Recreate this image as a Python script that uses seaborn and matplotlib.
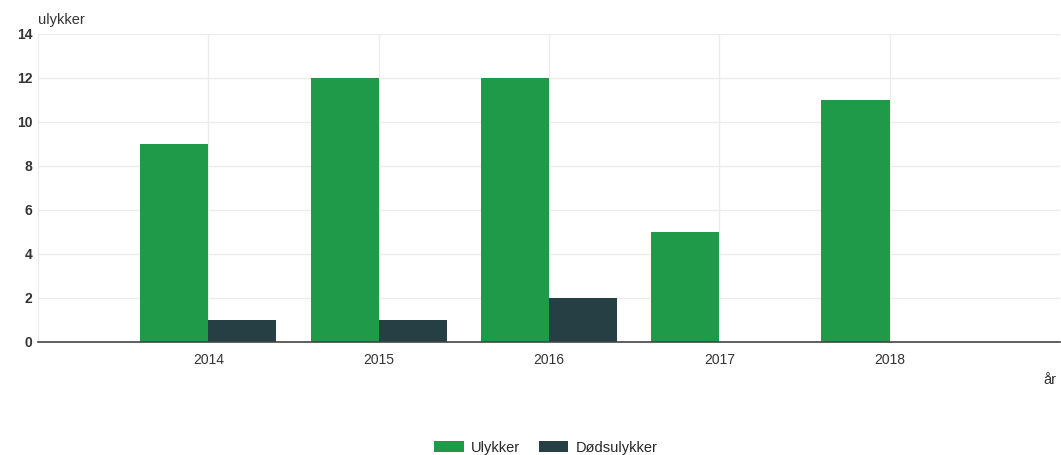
import pandas as pd
import matplotlib
matplotlib.use("Agg")
import matplotlib.pyplot as plt
import seaborn as sns

# Data
years = ["2014", "2015", "2016", "2017", "2018"]
ulykker = [9, 12, 12, 5, 11]
dodsulykker = [1, 1, 2, 0, 0]
series_names = ["Ulykker", "Dødsulykker"]
colors = ["#1f9a48", "#253f44"]

df = pd.DataFrame({
    "år": years * 2,
    "antall": ulykker + dodsulykker,
    "serie": [series_names[0]] * len(years) + [series_names[1]] * len(years),
})

sns.set_style("white")
plt.rcParams["font.family"] = ["Liberation Sans", "DejaVu Sans"]

fig = plt.figure(figsize=(10.61, 4.55), dpi=100)
ax = fig.add_axes([0.0358, 0.2484, 0.9632, 0.6769])

sns.barplot(data=df, x="år", y="antall", hue="serie", palette=colors,
            width=0.8, saturation=1, linewidth=0, ax=ax, legend=True)

ax.set_xlim(-1, 5)
ax.set_ylim(0, 14)
ax.set_yticks(range(0, 15, 2))
ax.set_xlabel("")
ax.set_ylabel("")

# light grid behind bars
ax.set_axisbelow(True)
ax.grid(True, axis="both", color="#ececec", linewidth=1)
for s in ["top", "right"]:
    ax.spines[s].set_visible(False)
ax.spines["left"].set_color("#ececec")
ax.spines["bottom"].set_color("#444444")
ax.spines["bottom"].set_linewidth(1.2)

ax.tick_params(axis="both", length=0, labelsize=10, colors="#333333")
for lbl in ax.get_yticklabels():
    lbl.set_fontweight("bold")
ax.tick_params(axis="x", pad=8)
ax.tick_params(axis="y", pad=4)

fig.text(0.0358, 0.94, "ulykker", fontsize=10.5, color="#333333", va="bottom")
fig.text(0.996, 0.155, "år", fontsize=10.5, color="#333333", ha="right")

ax.legend(loc="lower center", bbox_to_anchor=(0.497, -0.385), ncol=2, frameon=False,
          fontsize=10.5, handlelength=2.0, handleheight=0.85, columnspacing=1.3,
          handletextpad=0.5, borderaxespad=0)

fig.savefig("out.png", dpi=100, facecolor="white")
